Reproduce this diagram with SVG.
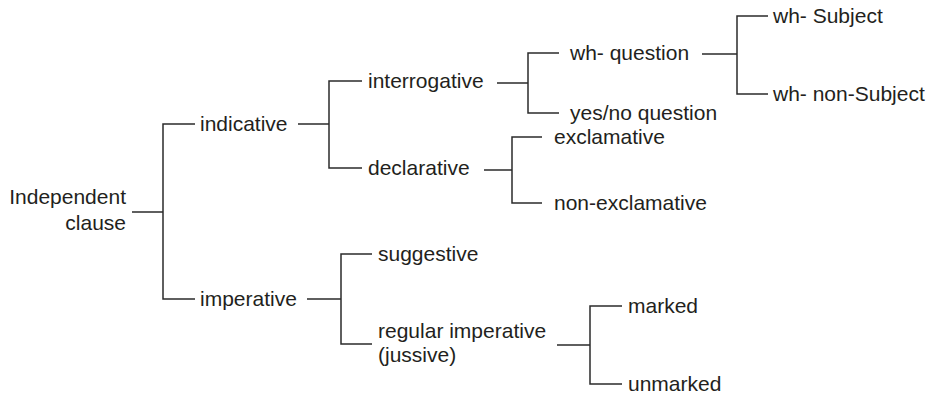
<svg xmlns="http://www.w3.org/2000/svg" width="932" height="397" viewBox="0 0 932 397">
<style>
text{font-family:"Liberation Sans",Arial,Helvetica,sans-serif;font-size:21px;fill:#231f20}
.c path{fill:none;stroke:#2b2b2b;stroke-width:1.5}
</style>
<rect width="932" height="397" fill="#fff"/>
<g class="c" id="connectors">
<path d="M132 212H163M195 124H163V299H195"/>
<path d="M298 124H329M362 81H329V168H362"/>
<path d="M497 83H528M559 53H528V113H559"/>
<path d="M702 54H737M768 16H737V94H768"/>
<path d="M484 170H512M542 137H512V203H542"/>
<path d="M307 299H341M372 254H341V344H372"/>
<path d="M557 345H590M622 306H590V384H622"/>
</g>
<g id="n-root"><text x="126" y="204" text-anchor="end">Independent</text><text x="126" y="230" text-anchor="end">clause</text></g>
<g id="n-indicative"><text x="200" y="131">indicative</text></g>
<g id="n-imperative"><text x="200" y="306">imperative</text></g>
<g id="n-interrogative"><text x="368" y="88">interrogative</text></g>
<g id="n-declarative"><text x="368" y="175">declarative</text></g>
<g id="n-whq"><text x="570" y="60">wh- question</text></g>
<g id="n-yesno"><text x="570" y="120">yes/no question</text></g>
<g id="n-whsubj"><text x="773" y="23">wh- Subject</text></g>
<g id="n-whnonsubj"><text x="773" y="101">wh- non-Subject</text></g>
<g id="n-excl"><text x="554" y="144">exclamative</text></g>
<g id="n-nonexcl"><text x="554" y="210">non-exclamative</text></g>
<g id="n-sugg"><text x="378" y="261">suggestive</text></g>
<g id="n-regular"><text x="378" y="338">regular imperative</text><text x="378" y="362">(jussive)</text></g>
<g id="n-marked"><text x="628" y="313">marked</text></g>
<g id="n-unmarked"><text x="628" y="391">unmarked</text></g>
</svg>
